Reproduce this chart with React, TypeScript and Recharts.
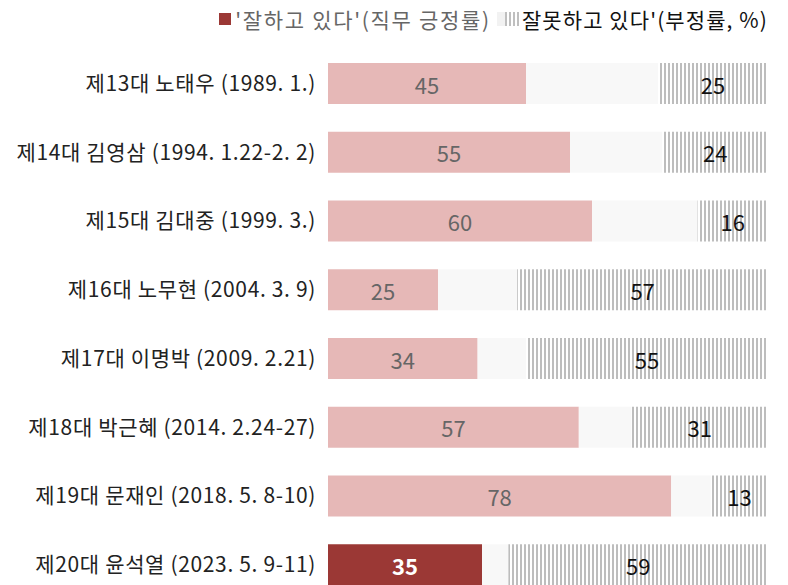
import React from 'react';
import { BarChart, Bar, XAxis, YAxis, Cell, LabelList } from 'recharts';

const categories = [
  '제13대 노태우 (1989. 1.)',
  '제14대 김영삼 (1994. 1.22-2. 2)',
  '제15대 김대중 (1999. 3.)',
  '제16대 노무현 (2004. 3. 9)',
  '제17대 이명박 (2009. 2.21)',
  '제18대 박근혜 (2014. 2.24-27)',
  '제19대 문재인 (2018. 5. 8-10)',
  '제20대 윤석열 (2023. 5. 9-11)',
];
const positive = [45, 55, 60, 25, 34, 57, 78, 35];
const negative = [25, 24, 16, 57, 55, 31, 13, 59];

const data = categories.map((name, i) => ({
  name,
  pos: positive[i],
  mid: 100 - positive[i] - negative[i],
  neg: negative[i],
}));

const FONT = '"Noto Sans CJK KR", "Noto Sans", sans-serif';
const last = categories.length - 1;

const PosLabel = (props: any) => {
  const { x, y, width, height, value, index } = props;
  const isLast = index === last;
  return (
    <text
      x={x + width / 2}
      y={y + height / 2}
      textAnchor="middle"
      dominantBaseline="central"
      fontSize={22}
      fontFamily={FONT}
      fontWeight={isLast ? 700 : 400}
      fill={isLast ? '#ffffff' : '#666666'}
    >
      {value}
    </text>
  );
};

const NegLabel = (props: any) => {
  const { x, y, width, height, value } = props;
  return (
    <text
      x={x + width / 2}
      y={y + height / 2}
      textAnchor="middle"
      dominantBaseline="central"
      fontSize={22}
      fontFamily={FONT}
      fill="#111111"
    >
      {value}
    </text>
  );
};

export default function App() {
  return (
    <div style={{ position: 'absolute', left: 0, top: 0, width: 788, height: 585, overflow: 'hidden', background: '#fff' }}>
      <div
        style={{
          position: 'absolute',
          right: 20,
          top: 5,
          height: 28,
          display: 'flex',
          alignItems: 'center',
          fontFamily: FONT,
          fontSize: 21,
          whiteSpace: 'nowrap',
        }}
      >
        <span style={{ display: 'inline-block', width: 12, height: 12, background: '#9b3835', marginRight: 4 }} />
        <span style={{ color: '#666666', letterSpacing: 1.7 }}>'잘하고 있다'(직무 긍정률)</span>
        <svg width={22} height={14} style={{ marginLeft: 6, marginRight: 3 }}>
          <rect x={0} y={0} width={8} height={14} fill="#f2f2f2" />
          <rect x={8} y={0} width={2} height={14} fill="#bfbfbf" />
          <rect x={12} y={0} width={2} height={14} fill="#bfbfbf" />
          <rect x={16} y={0} width={2} height={14} fill="#bfbfbf" />
          <rect x={20} y={0} width={2} height={14} fill="#bfbfbf" />
        </svg>
        <span style={{ color: '#111111', letterSpacing: 1.1 }}>잘못하고 있다'(부정률, %)</span>
      </div>
      <BarChart
        width={788}
        height={600}
        data={data}
        layout="vertical"
        margin={{ top: 49, right: 20, left: 0, bottom: 1 }}
        barSize={41}
      >
        <defs>
          <pattern id="hatch" patternUnits="userSpaceOnUse" width={4} height={4}>
            <rect x={0} y={0} width={4} height={4} fill="#ffffff" />
            <rect x={0} y={0} width={2} height={4} fill="#bdbdbd" />
          </pattern>
        </defs>
        <XAxis type="number" domain={[0, 100]} hide />
        <YAxis
          type="category"
          dataKey="name"
          width={328}
          axisLine={false}
          tickLine={false}
          tickSize={0}
          tickMargin={12}
          interval={0}
          tick={{ fontSize: 21, fontFamily: FONT, fill: '#222222', letterSpacing: 0.65 }}
        />
        <Bar dataKey="pos" stackId="a" isAnimationActive={false} fill="#e6b8b7">
          {data.map((d, i) => (
            <Cell key={i} fill={i === last ? '#9b3835' : '#e6b8b7'} />
          ))}
          <LabelList dataKey="pos" content={PosLabel} />
        </Bar>
        <Bar dataKey="mid" stackId="a" isAnimationActive={false} fill="#f8f8f8" />
        <Bar dataKey="neg" stackId="a" isAnimationActive={false} fill="url(#hatch)">
          <LabelList dataKey="neg" content={NegLabel} />
        </Bar>
      </BarChart>
    </div>
  );
}
